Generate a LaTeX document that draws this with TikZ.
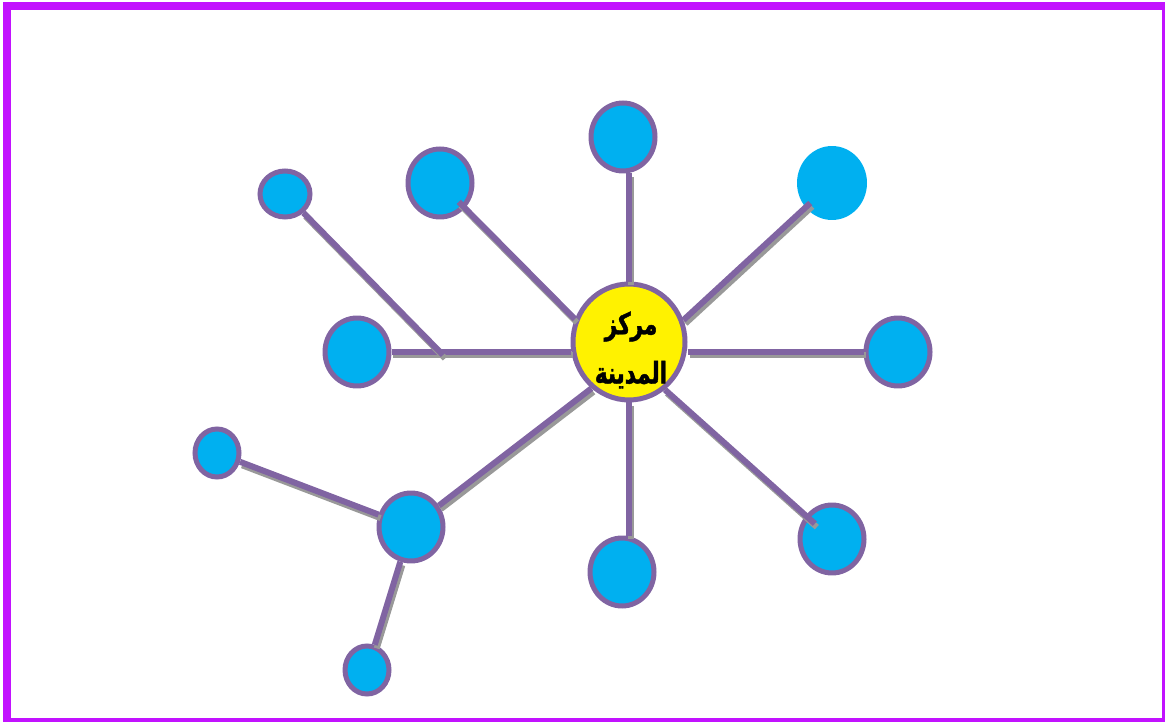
\documentclass[tikz,border=0pt]{standalone}
\usepackage{fontspec}
\newfontfamily\arabicfont[Script=Arabic,FakeStretch=0.72,FakeBold=1.5]{DejaVu Sans}
\TeXXeTstate=1
\usetikzlibrary{shapes.geometric}
\definecolor{cadre}{RGB}{194,18,255}
\definecolor{bleu}{RGB}{0,176,240}
\definecolor{violet}{RGB}{128,100,162}

\begin{document}
\begin{tikzpicture}[x=0.02cm,y=-0.02cm,
	quartier/.style={ellipse,draw=violet,line width=0.1cm,fill=bleu,inner sep=0pt,minimum width=1.28cm,minimum height=1.36cm},
	petit/.style={quartier,minimum width=0.88cm,minimum height=0.96cm},
	route/.style={violet,line width=0.12cm,preaction={draw=gray!80,line width=0.12cm,transform canvas={shift={(0.04cm,-0.07cm)}}}},
	dedans/.style={shorten >=-#1},dedans/.default=5pt]
		\useasboundingbox (0,0) rectangle (1165,722);
		\draw[cadre,line width=0.16cm] (7,6.5) rectangle (1166,722);
		
		% les quartiers
		\node[ellipse,draw=violet,line width=0.1cm,fill=yellow,inner sep=0pt,minimum width=2.24cm,minimum height=2.32cm] (centre) at (629,342) {};
		\node[align=center,font=\arabicfont\bfseries\fontsize{17}{28}\selectfont] (nom) at (631,350) {\beginR مركز\endR\\\beginR المدينة\endR};
		\node[quartier] (nord) at (623,137) {};
		\node[quartier,draw=none,minimum width=1.4cm,minimum height=1.48cm] (nordest) at (832,183) {};
		\node[quartier] (est) at (898,352) {};
		\node[quartier] (sudest) at (832,539) {};
		\node[quartier] (sud) at (622,572) {};
		\node[quartier] (ouest) at (357,352) {};
		\node[quartier] (nordouest) at (440,183) {};
		\node[quartier] (relais) at (411,527) {};
		\node[petit,minimum width=1.0cm,minimum height=0.92cm] (loin) at (285,194) {};
		\node[petit] (gauche) at (217,453) {};
		\node[petit] (bas) at (367,670) {};
		\coordinate (jonction) at (443,355);
		
		% les routes
		\draw[route] (centre.north) -- (centre.north |- nord.south);
		\draw[route] (centre.south) -- (centre.south |- sud.north);
		\draw[route] (ouest) -- (ouest -| centre.west);
		\draw[route] (centre.east |- est) -- (est);
		\draw[route,dedans] (centre.22) -- (nordest);
		\draw[route,dedans] (centre.157) -- (nordouest);
		\draw[route,dedans=7pt] (centre.-53) -- (sudest);
		\draw[route] (centre.231) -- (relais);
		\draw[route] (loin) -- (jonction);
		\draw[route] (gauche) -- (relais);
		\draw[route] (relais) -- (bas);
		
	\end{tikzpicture}
\end{document}
